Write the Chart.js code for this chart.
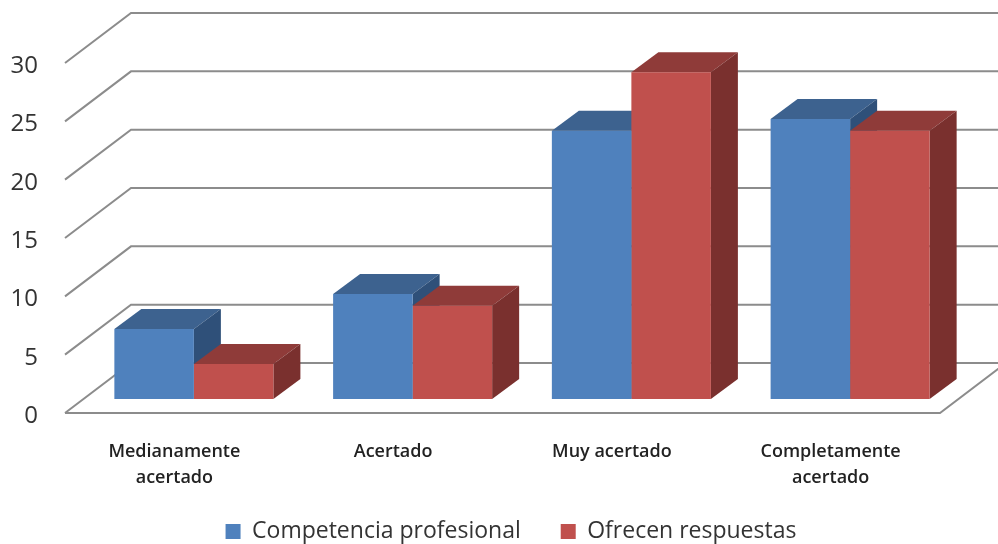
<!DOCTYPE html>
<html>
<head>
<meta charset="utf-8">
<script src="https://cdn.jsdelivr.net/npm/chart.js@4"></script>
<style>
  html, body { margin: 0; padding: 0; background: #fff; }
  #wrap { width: 998px; height: 544px; }
</style>
</head>
<body>
<div id="wrap"><canvas id="barChart"></canvas></div>
<script>
const categories = [["Medianamente", "acertado"], "Acertado", "Muy acertado", ["Completamente", "acertado"]];
const competencia = [6, 9, 23, 24];
const ofrecen = [3, 8, 28, 23];
const seriesNames = ["Competencia profesional", "Ofrecen respuestas"];
const yTicks = [0, 5, 10, 15, 20, 25, 30];

const frontColors = ["#4f81bd", "#c0504d"];
const topColors = ["#3d628f", "#8f3b39"];
const sideColors = ["#2f5079", "#7a302e"];

// fake 3D: walls sit behind the axis, bars sit part way into the floor
const wall = { dx: 66, dy: -50 };
const barShift = { dx: 19.5, dy: -14 };
const barDepth = { dx: 27, dy: -20 };
const legendShift = { dx: 41, dy: -33 };

function poly(ctx, pts, color) {
  ctx.fillStyle = color;
  ctx.beginPath();
  pts.forEach((p, i) => i ? ctx.lineTo(p[0], p[1]) : ctx.moveTo(p[0], p[1]));
  ctx.closePath();
  ctx.fill();
}

const walls3d = {
  id: "walls3d",
  afterLayout(chart) {
    // the wide legend padding pushes it down, pull it back into place
    chart.legend.left += legendShift.dx;
    chart.legend.right += legendShift.dx;
    chart.legend.top += legendShift.dy;
    chart.legend.bottom += legendShift.dy;
  },
  beforeDatasetsDraw(chart) {
    const ctx = chart.ctx;
    const y = chart.scales.y;
    const a = chart.chartArea;
    ctx.save();
    ctx.strokeStyle = "#8c8c8c";
    ctx.lineWidth = 2;
    y.ticks.forEach(t => {
      const py = y.getPixelForValue(t.value);
      ctx.beginPath();
      ctx.moveTo(a.left, py);
      ctx.lineTo(a.left + wall.dx, py + wall.dy);
      ctx.lineTo(a.right + wall.dx, py + wall.dy);
      ctx.stroke();
    });
    // floor front edge
    const y0 = y.getPixelForValue(0);
    ctx.beginPath();
    ctx.moveTo(a.left, y0);
    ctx.lineTo(a.right, y0);
    ctx.lineTo(a.right + wall.dx, y0 + wall.dy);
    ctx.stroke();
    ctx.restore();

    // tops and sides first, the library paints the front faces over them
    ctx.save();
    ctx.translate(barShift.dx, barShift.dy);
    categories.forEach((c, i) => {
      chart.data.datasets.forEach((ds, d) => {
        const bar = chart.getDatasetMeta(d).data[i];
        const l = bar.x - bar.width / 2;
        const r = bar.x + bar.width / 2;
        const t = bar.y;
        const b = bar.base;
        const dx = barDepth.dx, dy = barDepth.dy;
        poly(ctx, [[l, t], [r, t], [r + dx, t + dy], [l + dx, t + dy]], topColors[d]);
        poly(ctx, [[r, t], [r + dx, t + dy], [r + dx, b + dy], [r, b]], sideColors[d]);
      });
    });
    ctx.restore();

    ctx.save();
    ctx.translate(barShift.dx, barShift.dy);
  },
  afterDatasetsDraw(chart) {
    chart.ctx.restore();
  }
};

new Chart(document.getElementById("barChart").getContext("2d"), {
  type: "bar",
  data: {
    labels: categories,
    datasets: [
      { label: seriesNames[0], data: competencia, backgroundColor: frontColors[0] },
      { label: seriesNames[1], data: ofrecen, backgroundColor: frontColors[1] }
    ]
  },
  options: {
    responsive: true,
    maintainAspectRatio: false,
    animation: false,
    categoryPercentage: 0.727,
    barPercentage: 1,
    // big legend padding gives the gap between items, negative bottom pushes the extra height off the page
    layout: { padding: { top: 63, right: 58, left: 0, bottom: -42 } },
    plugins: {
      tooltip: { enabled: false },
      legend: {
        position: "bottom",
        labels: {
          color: "#333",
          boxWidth: 15,
          boxHeight: 15,
          padding: 40,
          font: { family: "'Open Sans'", size: 23 }
        }
      }
    },
    scales: {
      x: {
        grid: { display: false },
        border: { display: false },
        afterFit(s) { s.height = 100; },
        ticks: {
          color: "#222",
          padding: 18,
          maxRotation: 0,
          font: { family: "'Open Sans'", size: 18, weight: "600", lineHeight: 1.45 }
        }
      },
      y: {
        min: 0,
        max: 30,
        afterFit(s) { s.width = 65; },
        grid: { display: false },
        border: { display: false },
        afterBuildTicks(s) { s.ticks = yTicks.map(v => ({ value: v })); },
        ticks: {
          color: "#333",
          padding: 19,
          labelOffset: 3,
          font: { family: "'Open Sans'", size: 24 }
        }
      }
    }
  },
  plugins: [walls3d]
});
</script>
</body>
</html>
